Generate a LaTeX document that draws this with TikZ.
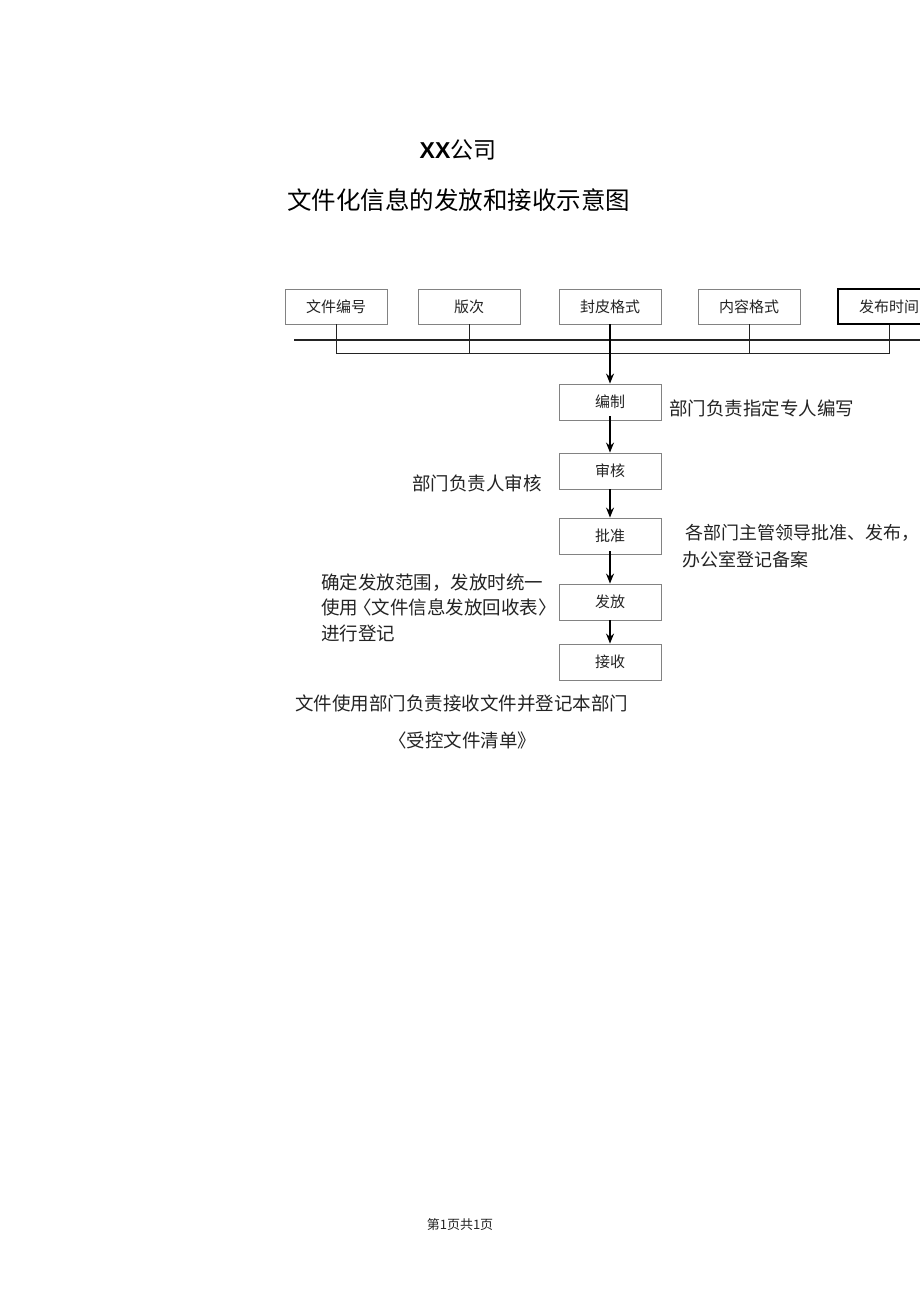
\documentclass[tikz,border=0pt]{standalone}
\usepackage{fontspec}
\setmainfont{Noto Sans CJK SC}
\newfontfamily\latinsans{Liberation Sans}
\usepackage{xcolor}
\usetikzlibrary{positioning, arrows.meta, calc}
\tikzset{every picture/.append style={thick}}
\definecolor{boxgray}{RGB}{130,130,130}
\definecolor{inkgray}{RGB}{35,35,35}
\tikzset{
  itembox/.style={draw=boxgray, line width=0.9pt, minimum width=102pt, minimum height=35pt,
    inner sep=0pt, font=\fontsize{15}{18}\selectfont, text=inkgray},
  stepbox/.style={itembox, minimum height=36pt},
  note/.style={inner sep=0pt, align=left, font=\fontsize{18.5}{25.5}\selectfont, text=inkgray},
  flow/.style={-{Stealth[length=10pt,width=8pt]}, line width=1.3pt, black},
  wire/.style={line width=1pt, inkgray},
}

\begin{document}
\begin{tikzpicture}[x=1pt, y=-1pt]
        \useasboundingbox (0,0) rectangle (920,1301);
        % ----------------------------------------------------
        % Heading
        % ----------------------------------------------------
        \node[inner sep=0pt, font=\fontsize{23}{26}\selectfont] (company) at (458,150)
            {{\latinsans\bfseries XX}公司};
        \node[inner sep=0pt, font=\fontsize{24.5}{28}\selectfont] (title) at (458.5,200)
            {文件化信息的发放和接收示意图};

        % ----------------------------------------------------
        % Top row: document elements
        % ----------------------------------------------------
        \node[itembox] (wjbh) at (336,306.5) {文件编号};
        \node[itembox] (bc)   at (469,306.5) {版次};
        \node[itembox] (fpgs) at (610,306.5) {封皮格式};
        \node[itembox] (nrgs) at (749,306.5) {内容格式};
        \node[itembox, draw=black, line width=1.2pt] (fbsj) at (889,306.5) {发布时间};

        % Bus line & bracket
        \coordinate (busL) at (294,340);
        \coordinate (busR) at (930,340);
        \draw[wire, line width=1.4pt] (busL) -- (busR);
        \draw[wire] (wjbh.south) -- (wjbh.south |- 0,353) -| (fbsj.south);
        \draw[wire] (bc.south) -- (bc.south |- 0,353);
        \draw[wire] (nrgs.south) -- (nrgs.south |- 0,353);

        % ----------------------------------------------------
        % Flow: compile -> review -> approve -> issue -> receive
        % ----------------------------------------------------
        \node[stepbox] (bz) at (610,402) {编制};
        \node[stepbox] (sh) at (610,471) {审核};
        \node[stepbox] (pz) at (610,536) {批准};
        \node[stepbox] (ff) at (610,602) {发放};
        \node[stepbox] (js) at (610,662) {接收};

        \draw[flow] (fpgs.south) -- (bz.north);
        \draw[flow] ([yshift=4pt]bz.south) -- (sh.north);
        \draw[flow] (sh.south) -- (pz.north);
        \draw[flow] ([yshift=3pt]pz.south) -- (ff.north);
        \draw[flow] (ff.south) -- (js.north);

        % Notes
        \node[note, anchor=west] (bzNote) at (669,408) {部门负责指定专人编写};
        \node[note, anchor=east] (shNote) at (542,483) {部门负责人审核};
        \node[note, anchor=west, font=\fontsize{18}{27}\selectfont] (pzNote) at (685.5,546.5)
            {各部门主管领导批准、发布，\\\kern-3pt办公室登记备案};
        \node[note, anchor=west] (ffNote) at (321,607.5)
            {确定发放范围，发放时统一\\使用\kern-5pt〈文件信息发放回收表〉\\进行登记};
        \node[note] (jsNote) at (461.5,703) {文件使用部门负责接收文件并登记本部门};
        \node[note] (jsList) at (462,740) {〈受控文件清单》};

        % Footer
        \node[inner sep=0pt, font=\fontsize{13}{15}\selectfont, text=inkgray] (footer) at (460,1225)
            {第1页共1页};
    \end{tikzpicture}
\end{document}
